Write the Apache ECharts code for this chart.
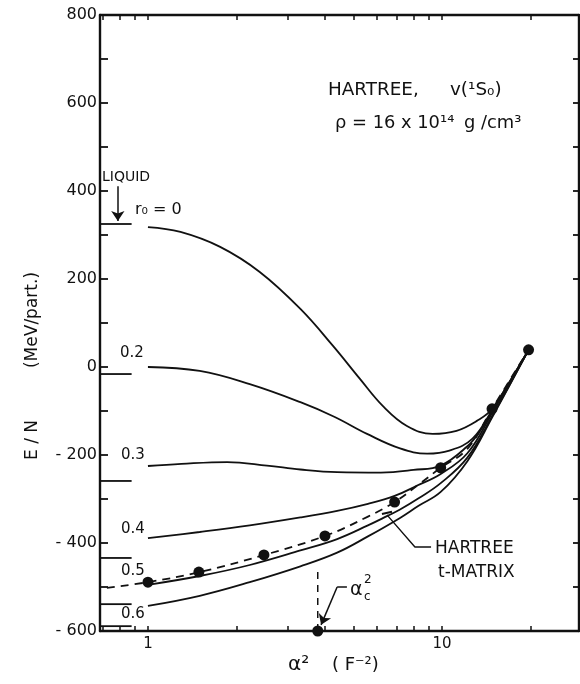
<!DOCTYPE html>
<html><head><meta charset="utf-8">
<script src="https://cdn.jsdelivr.net/npm/echarts@6/dist/echarts.min.js"></script>
<style>html,body{margin:0;padding:0;background:#fff}#c{width:580px;height:684px}</style>
</head><body><div id="c"></div>
<script>
// ---- axis description ----
const xRange = [0.687, 29.24];                 // alpha^2 (F^-2), log axis
const xTicks = [0.7, 0.8, 0.9, 1, 2, 3, 4, 5, 6, 7, 8, 9, 10, 20];
const xTickLabels = [1, 10];
const yRange = [-600, 800];
const yTickLabels = [-600, -400, -200, 0, 200, 400, 600, 800];

// ---- curves (alpha^2, E/N) ----
const r00X = [1, 1.29, 1.76, 2.4, 3.3, 4.26, 5.26, 6.3, 7.6, 9.3, 11.2, 13.1, 14.8, 19.7];
const r00Y = [318, 307, 273, 216, 132, 48, -27, -89, -134, -152, -145, -123, -95, 39];
const r02X = [1, 1.5, 2.22, 3.3, 4.3, 5.56, 7.2, 8.9, 10.6, 12.7, 14.8, 19.7];
const r02Y = [0, -9, -39, -80, -113, -152, -185, -197, -190, -163, -98, 39];
const r03X = [1, 1.3, 1.86, 2.54, 3.3, 4.4, 6.2, 8, 9.9, 12.2, 13.5, 14.8, 19.7];
const r03Y = [-225, -220, -216, -224, -233, -239, -240, -234, -224, -180, -145, -101, 39];
const r04X = [1, 1.5, 2.22, 3.3, 4.4, 5.6, 6.9, 8.2, 9.9, 12.2, 14.8, 19.7];
const r04Y = [-389, -375, -360, -342, -327, -311, -293, -270, -243, -196, -105, 39];
const r05X = [1, 1.5, 2.22, 3.3, 4.4, 5.6, 6.5, 7.2, 8.3, 9.9, 12.2, 14.8, 19.7];
const r05Y = [-495, -475, -450, -417, -391, -360, -339, -324, -299, -264, -206, -112, 39];
const r06X = [1, 1.5, 2.22, 3.3, 4.4, 5.6, 7.2, 8.3, 9.9, 12.2, 14.8, 19.7];
const r06Y = [-543, -520, -489, -453, -422, -385, -343, -316, -284, -214, -115, 39];
// dashed curve through the dots
const dashX = [0.725, 1, 1.5, 2.46, 4.0, 5.6, 6.9, 8.3, 9.9, 12.2, 14.8, 19.7];
const dashY = [-502, -489, -466, -428, -384, -340, -307, -268, -229, -186, -95, 39];
const dotX = [1, 1.49, 2.48, 4.0, 6.9, 9.9, 14.8, 19.7];
const dotY = [-489, -466, -427, -384, -307, -229, -95, 39];
// liquid values (short marks at the left axis)
const liquidLevels = [325, -16, -259, -434, -539, -589];
const liquidEnd = 0.88;
// critical alpha^2
const alphaC = 3.78;
const alphaCTop = -463;

const lg = Math.log10;
const pts = (xs, ys) => xs.map((x, i) => [lg(x), ys[i]]);
const BLACK = '#111';
const FONT = 'DejaVu Sans';

const series = [];
function curve(xs, ys, dashed) {
  series.push({
    type: 'line', data: pts(xs, ys), smooth: 0.4, symbol: 'none', silent: true,
    lineStyle: { color: BLACK, width: 1.8, type: dashed ? [8, 6] : 'solid' }, z: 3
  });
}
curve(r00X, r00Y); curve(r02X, r02Y); curve(r03X, r03Y);
curve(r04X, r04Y); curve(r05X, r05Y); curve(r06X, r06Y);
curve(dashX, dashY, true);

liquidLevels.forEach(v => series.push({
  type: 'line', data: [[lg(xRange[0]), v], [lg(liquidEnd), v]], symbol: 'none', silent: true,
  lineStyle: { color: BLACK, width: 1.8 }
}));

series.push({
  type: 'scatter', data: pts(dotX, dotY), symbol: 'circle', symbolSize: 11,
  itemStyle: { color: BLACK, opacity: 1 }, z: 5, silent: true
});
series.push({
  type: 'scatter', data: [[lg(alphaC), yRange[0]]], symbol: 'circle', symbolSize: 11,
  itemStyle: { color: BLACK, opacity: 1 }, z: 6, clip: false, silent: true
});
series.push({
  type: 'line', data: [[lg(alphaC), yRange[0]], [lg(alphaC), alphaCTop]], symbol: 'none', silent: true,
  lineStyle: { color: BLACK, width: 1.5, type: [7, 6] }
});
// annotation leaders
series.push({
  type: 'line', data: [[lg(4.75), -500], [lg(4.40), -500]], symbol: 'none', silent: true,
  lineStyle: { color: BLACK, width: 1.4 }
});
series.push({
  type: 'line', data: [[lg(6.5), -336], [lg(8.09), -409], [lg(9.18), -409]], symbol: 'none', silent: true,
  lineStyle: { color: BLACK, width: 1.4 }
});
series.push({
  type: 'line', data: [[lg(6.25), -334], [lg(6.76), -329]], symbol: 'none', silent: true,
  lineStyle: { color: BLACK, width: 2.2 }
});
series.push({
  type: 'line', data: [], silent: true,
  markLine: {
    silent: true, animation: false, label: { show: false },
    lineStyle: { color: BLACK, width: 1.5, type: 'solid' },
    symbolSize: 10,
    data: [
      [{ coord: [lg(4.40), -500], symbol: 'none' }, { coord: [lg(3.88), -586], symbol: 'arrow' }],
      [{ coord: [lg(0.79), 411], symbol: 'none' }, { coord: [lg(0.79), 332], symbol: 'arrow' }]
    ]
  }
});

const axisLine = { show: true, onZero: false, lineStyle: { color: BLACK, width: 2.4 } };
const xAxisBase = {
  type: 'value', min: lg(xRange[0]), max: lg(xRange[1]),
  axisLine, splitLine: { show: false },
  axisTick: { show: true, inside: true, length: 5, customValues: xTicks.map(lg), lineStyle: { color: BLACK, width: 1.5 } }
};
const yAxisBase = {
  type: 'value', min: yRange[0], max: yRange[1], interval: 100,
  axisLine, splitLine: { show: false },
  axisTick: { show: true, inside: true, length: 8, lineStyle: { color: BLACK, width: 1.8 } }
};

const txt = (left, top, text, size, extra) => Object.assign({ type: 'text', left, top,
  style: { text, font: size + 'px "DejaVu Sans"', fill: BLACK } }, extra || {});

const option = {
  animation: false,
  backgroundColor: '#fff',
  grid: { left: 100, right: 1, top: 15, bottom: 53, containLabel: false },
  xAxis: [
    Object.assign({}, xAxisBase, {
      position: 'bottom',
      axisLabel: {
        customValues: xTickLabels.map(lg), margin: 6, color: BLACK, fontSize: 15, fontFamily: FONT,
        formatter: v => String(Math.round(Math.pow(10, v)))
      }
    }),
    Object.assign({}, xAxisBase, { position: 'top', axisLabel: { show: false } })
  ],
  yAxis: [
    Object.assign({}, yAxisBase, {
      position: 'left',
      axisLabel: {
        customValues: yTickLabels, margin: 3, color: BLACK, fontSize: 16, fontFamily: FONT,
        formatter: v => v < 0 ? '- ' + Math.abs(v) : String(v)
      }
    }),
    Object.assign({}, yAxisBase, { position: 'right', axisLabel: { show: false },
      axisTick: { show: true, inside: true, length: 6, lineStyle: { color: BLACK, width: 1.8 } } })
  ],
  series,
  graphic: [
    txt(328, 82, 'HARTREE,', 17, { scaleX: 1.08 }),
    txt(450, 82, 'v(¹S₀)', 17, { scaleX: 1.08 }),
    txt(335, 115, 'ρ = 16 x 10¹⁴', 17, { scaleX: 1.05 }),
    txt(464, 115, 'g /cm³', 17, { scaleX: 1.05 }),
    txt(102, 170, 'LIQUID', 14),
    txt(135, 202, 'r₀ = 0', 16),
    txt(120, 346, '0.2', 15),
    txt(121, 448, '0.3', 15),
    txt(121, 522, '0.4', 15),
    txt(121, 564, '0.5', 15),
    txt(121, 607, '0.6', 15),
    txt(435, 540, 'HARTREE', 17),
    txt(438, 564, 't-MATRIX', 17),
    txt(350, 581, 'α', 19),
    txt(364, 574, '2', 12),
    txt(364, 591, 'c', 12),
    txt(288, 655, 'α²', 20),
    txt(332, 656, '( F⁻²)', 18),
    { type: 'text', x: 33, y: 440, rotation: Math.PI / 2,
      style: { text: 'E / N', font: '17px "DejaVu Sans"', fill: BLACK, align: 'center', verticalAlign: 'middle' } },
    { type: 'text', x: 33, y: 320, rotation: Math.PI / 2,
      style: { text: '(MeV/part.)', font: '17px "DejaVu Sans"', fill: BLACK, align: 'center', verticalAlign: 'middle' } }
  ]
};
const chart = echarts.init(document.getElementById('c'), null, { renderer: 'canvas' });
chart.setOption(option);
</script></body></html>
